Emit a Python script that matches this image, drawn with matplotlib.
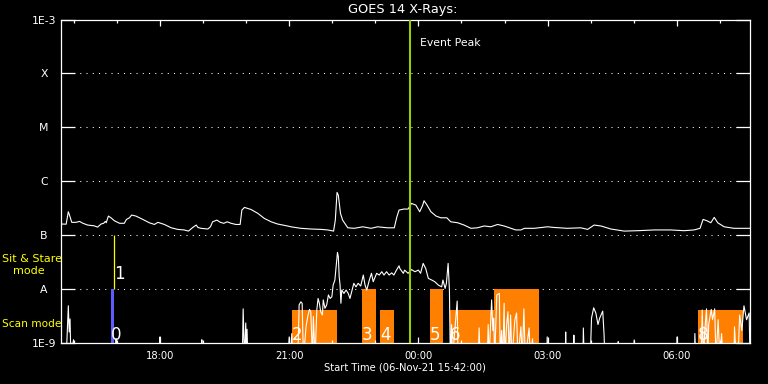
import numpy as np
import matplotlib
matplotlib.use('Agg')
import matplotlib.pyplot as plt
import matplotlib.transforms as mtransforms
from matplotlib.ticker import NullLocator

# ---- data (time = hours after 06-Nov-21 00:00 UT) ----
long_t = [15.70, 15.82, 15.87, 15.89, 15.95, 16.05, 16.13, 16.21, 16.32, 16.47,
          16.55, 16.63, 16.69, 16.73, 16.75, 16.80, 16.86, 16.94, 17.06, 17.17,
          17.22, 17.29, 17.34, 17.44, 17.60, 17.75, 17.87, 17.95, 18.10, 18.26,
          18.41, 18.56, 18.66, 18.76, 18.84, 18.88, 18.95, 19.11, 19.17, 19.22,
          19.32, 19.40, 19.48, 19.56, 19.65, 19.76, 19.86, 19.90, 19.96, 20.11,
          20.27, 20.42, 20.58, 20.73, 20.96, 21.04, 21.27, 21.51, 21.74, 21.89,
          22.03, 22.07, 22.11, 22.14, 22.19, 22.24, 22.36, 22.51, 22.71, 22.90,
          23.05, 23.28, 23.44, 23.50, 23.55, 23.66, 23.76, 23.84, 23.94, 24.03,
          24.10, 24.13, 24.20, 24.29, 24.41, 24.52, 24.66, 24.75, 24.91, 25.06,
          25.22, 25.37, 25.53, 25.68, 25.84, 25.99, 26.15, 26.26, 26.38, 26.46,
          26.69, 27.00, 27.15, 27.46, 27.77, 27.93, 28.08, 28.24, 28.47, 28.78,
          29.09, 29.48, 29.86, 30.17, 30.40, 30.54, 30.61, 30.70, 30.79, 30.87,
          30.95, 31.10, 31.33, 31.70]
# long channel flux, units of 1e-7 W/m^2
long_f = [1.61, 1.60, 2.72, 2.46, 1.73, 1.73, 1.80, 1.66, 1.54, 1.49,
          1.41, 1.61, 1.66, 1.80, 1.70, 2.26, 2.10, 1.85, 1.66, 1.66,
          1.96, 2.10, 2.36, 2.26, 1.96, 1.70, 1.58, 1.73, 1.58, 1.37,
          1.28, 1.25, 1.19, 1.39, 1.54, 1.39, 1.34, 1.30, 1.43, 1.77,
          1.90, 1.73, 1.66, 1.77, 1.66, 1.58, 1.58, 2.92, 3.27, 3.00,
          2.54, 2.05, 1.77, 1.61, 1.48, 1.43, 1.34, 1.30, 1.28, 1.25,
          1.19, 1.90, 6.21, 5.53, 2.54, 1.90, 1.37, 1.34, 1.43, 1.34,
          1.43, 1.37, 1.37, 2.19, 2.92, 3.05, 3.05, 3.88, 3.61, 2.72,
          3.61, 4.35, 3.61, 2.72, 2.26, 2.10, 2.10, 1.77, 1.70, 1.54,
          1.34, 1.37, 1.48, 1.43, 1.58, 1.48, 1.34, 1.25, 1.25, 1.34,
          1.34, 1.43, 1.39, 1.34, 1.37, 1.28, 1.54, 1.48, 1.30, 1.19,
          1.21, 1.25, 1.25, 1.21, 1.25, 1.34, 1.96, 1.85, 1.70, 2.14,
          1.70, 1.43, 1.34, 1.34]

short_t = [15.82, 15.87, 15.89, 15.91, 15.93, 15.99, 16.00, 16.97, 16.98, 16.99,
           17.99, 18.00, 18.01, 18.96, 18.97, 18.98, 19.91, 19.93, 19.96, 19.99,
           20.01, 20.02, 20.04, 20.97, 21.00, 21.02, 21.06, 21.08, 21.20, 21.23,
           21.27, 21.30, 21.33, 21.39, 21.43, 21.47, 21.50, 21.54, 21.56, 21.60,
           21.64, 21.67, 21.70, 21.73, 21.77, 21.79, 21.83, 21.87, 21.91, 21.95,
           21.99, 22.02, 22.06, 22.09, 22.12, 22.14, 22.16, 22.18, 22.20, 22.22,
           22.27, 22.32, 22.37, 22.41, 22.45, 22.50, 22.55, 22.60, 22.66, 22.72,
           22.76, 22.80, 22.86, 22.91, 22.95, 23.03, 23.09, 23.15, 23.20, 23.26,
           23.32, 23.38, 23.43, 23.49, 23.55, 23.57, 23.65, 23.68, 23.76, 23.84,
           23.92, 24.00, 24.05, 24.11, 24.17, 24.23, 24.31, 24.38, 24.46, 24.54,
           24.57, 24.62, 24.65, 24.69, 24.72, 24.74, 24.77, 24.79, 24.90, 24.92,
           25.39, 25.41, 25.43, 25.60, 25.62, 25.64, 25.70, 25.73, 25.75, 25.77,
           25.82, 25.88, 25.90, 25.93, 25.96, 25.99, 26.01, 26.05, 26.08, 26.11,
           26.14, 26.17, 26.24, 26.28, 26.31, 26.38, 26.41, 26.45, 26.48, 26.57,
           26.60, 26.65, 26.67, 26.98, 26.99, 27.01, 27.41, 27.42, 27.43, 27.60,
           27.61, 27.62, 27.82, 27.83, 27.85, 27.99, 28.02, 28.07, 28.12, 28.17,
           28.21, 28.28, 28.31, 28.33, 28.63, 28.64, 28.65, 29.00, 29.01, 29.03,
           30.00, 30.01, 30.02, 30.41, 30.42, 30.44, 30.57, 30.59, 30.62, 30.65,
           30.69, 30.72, 30.74, 30.80, 30.83, 30.88, 30.91, 30.96, 31.00, 31.04,
           31.07, 31.33, 31.34, 31.38, 31.42, 31.46, 31.51, 31.56, 31.62, 31.68,
           31.70]
# short channel flux, units of 1e-9 W/m^2 (0.5 = below the plotted range)
short_f = [0.5, 4.9, 1.6, 2.8, 0.5, 1.15, 0.5, 0.5, 1.2, 0.5,
           0.5, 1.3, 0.5, 0.5, 1.15, 0.5, 0.5, 4.3, 0.5, 2.35,
           0.5, 1.8, 0.5, 0.5, 1.3, 0.5, 1.5, 0.5, 0.5, 5.1,
           5.8, 5.45, 0.5, 2.0, 3.1, 4.2, 3.8, 0.5, 3.1, 0.5,
           4.1, 6.7, 5.45, 3.8, 3.3, 6.3, 4.4, 5.1, 7.8, 6.7,
           7.2, 11.9, 14.7, 26, 48, 40, 17, 11.9, 5.45, 9.6,
           8.3, 9.6, 8.3, 6.7, 8.9, 12.8, 11, 12.8, 11.4, 18.2,
           11.9, 9.6, 14.7, 19.6, 13.7, 19.6, 18.2, 21, 18.2, 21,
           18.2, 20, 18.2, 22.5, 27, 24, 19.6, 22.5, 19.6, 23,
           21, 22.5, 19.6, 30, 24, 15.8, 14.7, 13.7, 11.9, 11,
           14.7, 10.3, 12.8, 30, 9.6, 0.5, 2.2, 0.5, 6.0, 0.5,
           0.5, 1.9, 0.5, 0.5, 2.2, 0.5, 6.3, 1.7, 2.9, 0.5,
           7.8, 8.3, 0.5, 1.7, 0.5, 5.45, 0.5, 2.3, 3.8, 0.5,
           3.3, 0.5, 2.7, 3.6, 0.5, 2.0, 0.5, 4.3, 0.5, 1.9,
           0.5, 1.2, 0.5, 0.5, 1.3, 0.5, 0.5, 1.6, 0.5, 0.5,
           1.4, 0.5, 0.5, 1.9, 0.5, 0.5, 2.9, 4.5, 3.6, 2.2,
           2.9, 3.9, 1.5, 0.5, 0.5, 1.06, 0.5, 0.5, 1.14, 0.5,
           0.5, 1.3, 0.5, 0.5, 1.5, 0.5, 0.5, 4.1, 0.5, 1.7,
           4.3, 0.5, 2.2, 4.2, 2.7, 4.3, 0.5, 2.7, 0.5, 1.5,
           0.5, 0.5, 2.0, 0.5, 0.5, 3.3, 1.7, 4.9, 2.7, 3.6,
           0.5]

# observation blocks
obs_start = [16.86, 21.06, 22.69, 23.11, 24.27, 24.73, 25.75, 30.49]
obs_end = [16.93, 22.11, 23.01, 23.43, 24.57, 25.75, 26.80, 31.53]
obs_top = [1e-8, 4.1e-9, 1e-8, 4.1e-9, 1e-8, 4.1e-9, 1e-8, 4.1e-9]
obs_label = ['0', '2', '3', '4', '5', '6', '', '8']
obs_color = ['#5c5cff', '#ff8000', '#ff8000', '#ff8000', '#ff8000', '#ff8000', '#ff8000', '#ff8000']
stare_t = 16.94
stare_range = [1e-8, 1e-7]
stare_label = '1'

event_peak_t = 23.80

xtick_pos = [18, 21, 24, 27, 30]
xtick_lab = ['18:00', '21:00', '00:00', '03:00', '06:00']
xminor_pos = [16, 17, 19, 20, 22, 23, 25, 26, 28, 29, 31]
ytick_pos = [1e-9, 1e-8, 1e-7, 1e-6, 1e-5, 1e-4, 1e-3]
ytick_lab = ['1E-9', 'A', 'B', 'C', 'M', 'X', '1E-3']
grid_levels = [1e-8, 1e-7, 1e-6, 1e-5, 1e-4]

# ---- figure ----
W, H = 768, 384
fig = plt.figure(figsize=(W / 100, H / 100), dpi=100, facecolor='black')
ax = fig.add_axes([61 / W, 1 - 343 / H, (750 - 61) / W, (343 - 19.5) / H])
ax.set_facecolor('black')
ax.set_yscale('log')
ax.set_ylim(1e-9, 1e-3)
ax.set_xlim(15.70, 31.70)

for s in ax.spines.values():
    s.set_color('white')
    s.set_linewidth(0.9)

for lv in grid_levels:
    ax.axhline(lv, color='white', lw=0.75, ls=(0, (1, 5)), zorder=0.5)

# bars
for s, e, top, c in zip(obs_start, obs_end, obs_top, obs_color):
    ax.bar(s, top - 1e-10, width=e - s, bottom=1e-10, align='edge',
           color=c, linewidth=0, zorder=1)
for s, lab in zip(obs_start, obs_label):
    if lab:
        ax.text(s, 1.14e-9, lab, color='white', fontsize=12, ha='left',
                va='baseline', zorder=2)
ax.vlines(stare_t, stare_range[0], stare_range[1], color='#ffff00', lw=0.9, zorder=2)
ax.text(stare_t, 1.53e-8, stare_label, color='white', fontsize=12, ha='left',
        va='baseline', zorder=2)

# curves
ax.plot(long_t, np.array(long_f) * 1e-7, color='white', lw=0.8, zorder=3)
ax.plot(short_t, np.array(short_f) * 1e-9, color='white', lw=0.8, zorder=3)

# event peak
ax.axvline(event_peak_t, color='#9acd00', lw=1.5, zorder=4)
trans = mtransforms.blended_transform_factory(ax.transData, ax.transAxes)
ax.annotate('Event Peak', xy=(event_peak_t, 0.927), xycoords=trans,
            xytext=(7, 0), textcoords='offset points', color='white',
            fontsize=7.8, ha='left', va='center')

# ticks
ax.set_xticks(xtick_pos)
ax.set_xticklabels(xtick_lab)
ax.set_xticks(xminor_pos, minor=True)
ax.tick_params(axis='x', which='major', direction='in', length=4.5, width=0.9,
               color='white', top=True, labelcolor='white', labelsize=7.2, pad=6)
ax.tick_params(axis='x', which='minor', direction='in', length=2.4, width=0.9,
               color='white', top=True)
ax.set_yticks(ytick_pos)
ax.set_yticklabels(ytick_lab)
ax.yaxis.set_minor_locator(NullLocator())
ax.tick_params(axis='y', which='major', direction='in', length=10, width=0.9,
               color='white', right=True, labelcolor='white', labelsize=7.8, pad=12.2)
for lab in ax.get_yticklabels():
    lab.set_horizontalalignment('center')

# texts
fig.text(403 / W, 1 - 9.5 / H, 'GOES 14 X-Rays:', color='white', fontsize=9.3,
         ha='center', va='center')
fig.text(405 / W, 1 - 367.7 / H, 'Start Time (06-Nov-21 15:42:00)', color='white',
         fontsize=7.2, ha='center', va='center')
fig.text(2 / W, 1 - 259 / H, 'Sit & Stare', color='#ffff00', fontsize=8,
         ha='left', va='center')
fig.text(13 / W, 1 - 271 / H, 'mode', color='#ffff00', fontsize=8,
         ha='left', va='center')
fig.text(2 / W, 1 - 324 / H, 'Scan mode', color='#ffff00', fontsize=7.6,
         ha='left', va='center')

fig.savefig('out.png', dpi=100, facecolor='black')
